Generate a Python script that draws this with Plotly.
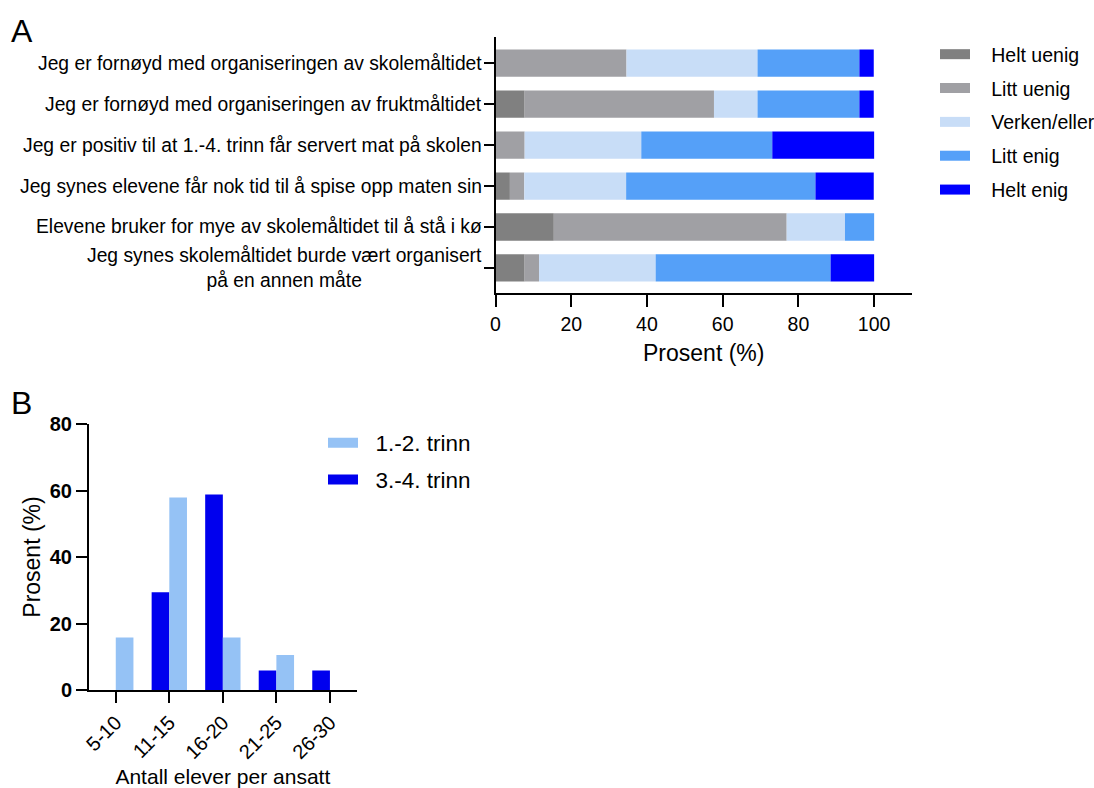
import numpy as np
import plotly.graph_objects as go

# ---------- Panel A: agreement with statements (percent of respondents) ----------
statements = [
    "Jeg er fornøyd med organiseringen av skolemåltidet",
    "Jeg er fornøyd med organiseringen av fruktmåltidet",
    "Jeg er positiv til at 1.-4. trinn får servert mat på skolen",
    "Jeg synes elevene får nok tid til å spise opp maten sin",
    "Elevene bruker for mye av skolemåltidet til å stå i kø",
    "Jeg synes skolemåltidet burde vært organisert<br>på en annen måte",
]
levels = ["Helt uenig", "Litt uenig", "Verken/eller", "Litt enig", "Helt enig"]
helt_uenig = [0.0, 7.7, 0.0, 3.8, 15.4, 7.7]
litt_uenig = [34.6, 50.0, 7.7, 3.8, 61.5, 3.8]
verken_eller = [34.6, 11.5, 30.8, 26.9, 15.4, 30.8]
litt_enig = [26.9, 26.9, 34.6, 50.0, 7.7, 46.2]
helt_enig = [3.8, 3.8, 26.9, 15.4, 0.0, 11.5]
level_colors = ["#808080", "#a0a0a4", "#c8ddf7", "#55a0f8", "#0000ff"]
x_ticks_a = [0, 20, 40, 60, 80, 100]

# ---------- Panel B: pupils per staff member ----------
groups = ["5-10", "11-15", "16-20", "21-25", "26-30"]
trinn_12 = [15.8, 57.9, 15.8, 10.5, 0.0]
trinn_34 = [0.0, 29.4, 58.8, 5.9, 5.9]
y_ticks_b = [0, 20, 40, 60, 80]
color_12 = "#95c2f5"
color_34 = "#0000ee"

FONT = "Liberation Sans, Arial, sans-serif"
W, H = 1094, 788
NBSP = "\u00a0"


def px_x(p):
    return p / W


def px_y(p):
    return 1 - p / H


fig = go.Figure()

# stacked horizontal bars, each segment starting where the previous ended
series_a = [helt_uenig, litt_uenig, verken_eller, litt_enig, helt_enig]
bases = np.cumsum([[0.0] * len(statements)] + series_a[:-1], axis=0)
for name, vals, base, col in zip(levels, series_a, bases, level_colors):
    fig.add_trace(go.Bar(
        y=statements, x=vals, base=base, orientation="h",
        width=0.667, offset=-0.3335,
        marker=dict(color=col, line=dict(width=0)),
        name=name, showlegend=False, xaxis="x", yaxis="y",
    ))
    # legend swatch drawn as a thick line segment
    fig.add_trace(go.Scatter(
        x=[None], y=[None], mode="lines", name=NBSP * 3 + name,
        line=dict(color=col, width=10), legend="legend",
        legendgroup=name, xaxis="x", yaxis="y",
    ))

# grouped vertical bars
fig.add_trace(go.Bar(
    x=groups, y=trinn_34, width=0.33, offset=-0.33,
    marker=dict(color=color_34, line=dict(width=0)),
    name="3.-4. trinn", showlegend=False, xaxis="x2", yaxis="y2",
))
fig.add_trace(go.Bar(
    x=groups, y=trinn_12, width=0.33, offset=0.0,
    marker=dict(color=color_12, line=dict(width=0)),
    name="1.-2. trinn", showlegend=False, xaxis="x2", yaxis="y2",
))
for name, col in [("1.-2. trinn", color_12), ("3.-4. trinn", color_34)]:
    fig.add_trace(go.Scatter(
        x=[None], y=[None], mode="lines", name=NBSP * 2 + name,
        line=dict(color=col, width=14), legend="legend2",
        legendgroup=name, xaxis="x2", yaxis="y2",
    ))

axis_common = dict(showline=True, linecolor="black", linewidth=2,
                   ticks="outside", tickcolor="black", tickwidth=2,
                   showgrid=False, zeroline=False, fixedrange=True,
                   automargin=False)

# category labels for panel A (multi-line label centred on itself)
annotations = []
for s in statements:
    annotations.append(dict(
        x=px_x(484), xref="paper", y=s, yref="y", text=s,
        xanchor="right", yanchor="middle", align="center", showarrow=False,
        font=dict(family=FONT, size=19.3, color="black"),
    ))
annotations += [
    dict(x=px_x(9), y=px_y(31.5), xref="paper", yref="paper", text="A",
         xanchor="left", yanchor="middle", showarrow=False,
         font=dict(family=FONT, size=32, color="black")),
    dict(x=px_x(9), y=px_y(403), xref="paper", yref="paper", text="B",
         xanchor="left", yanchor="middle", showarrow=False,
         font=dict(family=FONT, size=32, color="black")),
]

fig.update_layout(
    width=W, height=H, margin=dict(l=0, r=0, t=0, b=0, autoexpand=False),
    paper_bgcolor="white", plot_bgcolor="white",
    font=dict(family=FONT, color="black"),
    barmode="group",
    xaxis=dict(domain=[px_x(495.5), px_x(912)], range=[0, 110],
               tickvals=x_ticks_a, ticklen=12,
               tickfont=dict(family=FONT, size=19.5),
               title=dict(text="Prosent (%)", font=dict(family=FONT, size=23), standoff=11),
               anchor="y", **axis_common),
    yaxis=dict(domain=[px_y(293.3), px_y(37)], type="category",
               categoryorder="array", categoryarray=statements,
               range=[5.62, -0.64], showticklabels=False, ticklen=10,
               anchor="x", **axis_common),
    xaxis2=dict(domain=[px_x(89), px_x(356.7)], type="category",
                range=[-0.5, 4.5], ticklen=11, tickangle=-45,
                tickfont=dict(family=FONT, size=20),
                title=dict(text="Antall elever per ansatt", font=dict(family=FONT, size=21), standoff=8),
                anchor="y2", **axis_common),
    yaxis2=dict(domain=[px_y(690), px_y(424)], range=[0, 80],
                tickvals=y_ticks_b, ticklen=11,
                tickfont=dict(family=FONT, size=20, weight="bold"),
                title=dict(text="Prosent (%)", font=dict(family=FONT, size=23), standoff=3),
                anchor="x2", **axis_common),
    legend=dict(x=px_x(935), y=px_y(35), xanchor="left", yanchor="top",
                font=dict(family=FONT, size=19.5), tracegroupgap=5.5,
                bgcolor="rgba(0,0,0,0)", itemclick=False, itemdoubleclick=False),
    legend2=dict(x=px_x(323), y=px_y(421.5), xanchor="left", yanchor="top",
                 font=dict(family=FONT, size=22.5), tracegroupgap=4.5,
                 bgcolor="rgba(0,0,0,0)", itemclick=False, itemdoubleclick=False),
    annotations=annotations,
)

fig.write_html("out.html")
